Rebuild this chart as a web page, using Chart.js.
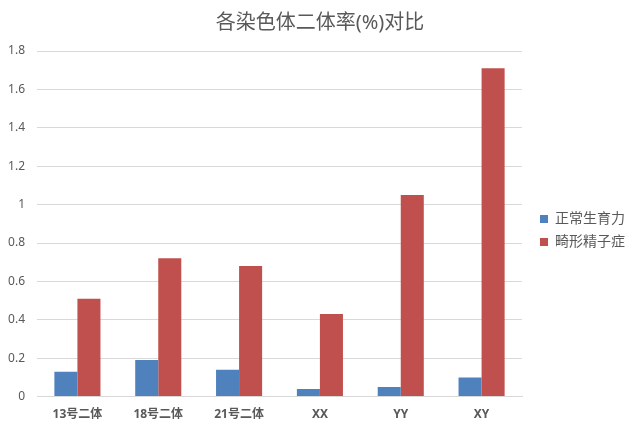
<!DOCTYPE html>
<html><head><meta charset="utf-8">
<script src="https://cdn.jsdelivr.net/npm/chart.js@4"></script>
<style>html,body{margin:0;padding:0;background:#fff}#wrap{width:640px;height:429px}</style>
</head><body><div id="wrap"><canvas id="c"></canvas></div>
<script>
const categories = ['13号二体','18号二体','21号二体','XX','YY','XY'];
const normalValues = [0.13,0.19,0.14,0.04,0.05,0.10];
const teratoValues = [0.51,0.72,0.68,0.43,1.05,1.71];
const seriesNames = ['正常生育力','畸形精子症'];
const yTicks = [0,0.2,0.4,0.6,0.8,1,1.2,1.4,1.6,1.8];
const FONT = "'Noto Sans', 'Noto Sans CJK SC', sans-serif";
const legendShift = {
  id:'legendShift',
  afterLayout(chart){
    const l = chart.legend;
    if(l){ l.left += 9; l.right += 9; l.top += 14; l.bottom += 14; }
    const t = chart.titleBlock;
    if(t){ t.left += 7; t.right += 7; }
  }
};
new Chart(document.getElementById('c'), {
  type:'bar',
  data:{labels:categories,datasets:[
    {label:seriesNames[0],data:normalValues,backgroundColor:'#4f81bd',categoryPercentage:0.57,barPercentage:1},
    {label:seriesNames[1],data:teratoValues,backgroundColor:'#c0504d',categoryPercentage:0.57,barPercentage:1}
  ]},
  options:{
    responsive:true,maintainAspectRatio:false,animation:false,
    layout:{padding:{left:0,right:14,top:8,bottom:4}},
    plugins:{
      title:{display:true,text:'各染色体二体率(%)对比',color:'#595959',font:{family:FONT,size:20,weight:'normal'},padding:{top:3,bottom:16}},
      legend:{position:'right',labels:{boxWidth:8,boxHeight:8,color:'#595959',font:{family:FONT,size:14},padding:9}},
      tooltip:{enabled:false}
    },
    scales:{
      x:{grid:{display:false},border:{color:'#d9d9d9'},ticks:{color:'#595959',font:{family:FONT,size:12,weight:'bold'},padding:3}},
      y:{min:0,max:1.8,afterBuildTicks:(s)=>{s.ticks=yTicks.map(v=>({value:v}));},
         afterFit:(s)=>{s.width=37;},
         grid:{color:'#d9d9d9',drawTicks:false},border:{display:false},
         ticks:{color:'#595959',font:{family:FONT,size:12},padding:12,callback:(v)=>String(v)}}
    }
  },
  plugins:[legendShift]
});
</script></body></html>
